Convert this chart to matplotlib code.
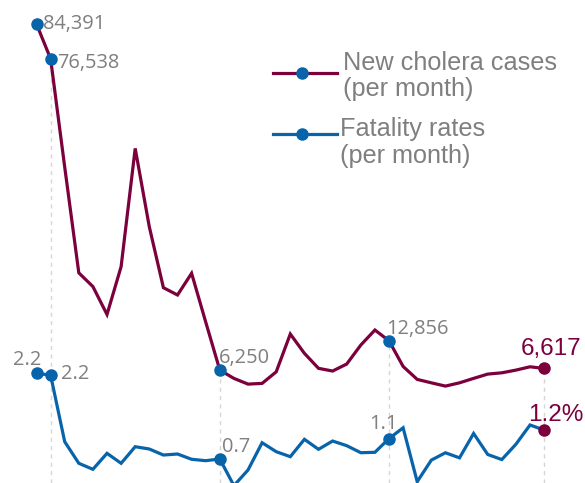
import matplotlib
matplotlib.use("Agg")
import matplotlib.pyplot as plt
from matplotlib.lines import Line2D

# ---- data ----
months = list(range(37))
cases = [84391, 76538, 52100, 28200, 25100, 18800, 29600, 56300, 38600, 24850,
         23200, 28100, 17100, 6250, 4370, 3080, 3240, 5850, 14390, 10030,
         6640, 6030, 7610, 11900, 15290, 12856, 7070, 4140, 3370, 2630,
         3370, 4370, 5340, 5630, 6240, 6990, 6617]
fatality = [2.21, 2.18, 1.005, 0.624, 0.518, 0.80, 0.624, 0.917, 0.876, 0.77,
            0.788, 0.695, 0.67, 0.70, 0.23, 0.506, 0.987, 0.829, 0.741, 1.047,
            0.871, 1.017, 0.935, 0.811, 0.818, 1.06, 1.25, 0.30, 0.68, 0.81,
            0.72, 1.15, 0.78, 0.69, 0.96, 1.30, 1.21]
marked = [0, 1, 13, 25]
last = 36
grid_at = [1, 13, 25, 36]
legend_lines = [("New cholera cases", "(per month)"), ("Fatality rates", "(per month)")]

MAROON = '#7b003c'
BLUE = '#0864aa'
GRAY = '#7f7f7f'
GRID = '#d6d6d6'
W, H = 585, 483

fig = plt.figure(figsize=(W / 100, H / 100), dpi=100)
ax = fig.add_axes([0, 0, 1, 1])
ax2 = ax.twinx()
for a in (ax, ax2):
    a.set_axis_off()

ax.set_xlim(-2.589, 38.90)
ax.set_ylim(-19251, 89810)
ax2.set_ylim(0.2767, 8.795)

# dashed vertical guides
ax.vlines(grid_at, -19251, [cases[i] for i in grid_at], colors=GRID,
          linestyles=(0, (3, 3)), lw=1, zorder=1)

lw = 2.3
ms = 8
ax.plot(months, cases, color=MAROON, lw=lw, zorder=3, solid_joinstyle='miter')
ax.plot([months[i] for i in marked], [cases[i] for i in marked], 'o',
        color=BLUE, ms=ms, zorder=4)
ax.plot([months[last]], [cases[last]], 'o', color=MAROON, ms=ms, zorder=4)

ax2.plot(months, fatality, color=BLUE, lw=lw, zorder=3, solid_joinstyle='miter')
ax2.plot([months[i] for i in marked], [fatality[i] for i in marked], 'o',
         color=BLUE, ms=ms, zorder=4)
ax2.plot([months[last]], [fatality[last]], 'o', color=MAROON, ms=ms, zorder=4)

gfont = dict(family=['Open Sans', 'DejaVu Sans'], size=14.4, color=GRAY)
mfont = dict(family=['Liberation Sans', 'DejaVu Sans'], size=17.5, color=MAROON)


def lab(a, i, vals, text, dx, dy, ha='left', **kw):
    a.annotate(text, xy=(months[i], vals[i]), xytext=(dx, dy),
               textcoords='offset pixels', ha=ha, va='baseline', **kw)


lab(ax, 0, cases, f"{cases[0]:,}", 6, -5.5, **gfont)
lab(ax, 1, cases, f"{cases[1]:,}", 7, -9.3, **gfont)
lab(ax, 13, cases, f"{cases[13]:,}", -1, 7, **gfont)
lab(ax, 25, cases, f"{cases[25]:,}", -3, 7, **gfont)
lab(ax, 36, cases, f"{cases[36]:,}", 7, 13.3, ha='center', **mfont)

lab(ax2, 0, fatality, f"{fatality[0]:.1f}", 5, 8.3, ha='right', **gfont)
lab(ax2, 1, fatality, f"{fatality[1]:.1f}", 10, -4.3, **gfont)
lab(ax2, 13, fatality, f"{fatality[13]:.1f}", 2, 7.3, **gfont)
lab(ax2, 25, fatality, f"{fatality[25]:.1f}", -6, 9.5, ha='center', **gfont)
lab(ax2, 36, fatality, f"{fatality[36]:.1f}%", 12, 9, ha='center', **mfont)


# ---- legend (manual) ----
def fx(px):
    return px / W


def fy(py):
    return 1 - py / H


lfont = dict(family=['Liberation Sans', 'DejaVu Sans'], size=18.2, color=GRAY)
legend_specs = [(MAROON, 73.3, 343, (70, 96)), (BLUE, 134.3, 340, (136, 163))]
for (color, hy, tx, bases), lines in zip(legend_specs, legend_lines):
    fig.add_artist(Line2D([fx(273), fx(337)], [fy(hy), fy(hy)], color=color,
                          lw=lw, transform=fig.transFigure))
    fig.add_artist(Line2D([fx(301.7)], [fy(hy)], marker='o', color=BLUE,
                          ms=ms, transform=fig.transFigure))
    for t, b in zip(lines, bases):
        fig.text(fx(tx), fy(b), t, ha='left', va='baseline', **lfont)

fig.savefig('out.png', dpi=100)
